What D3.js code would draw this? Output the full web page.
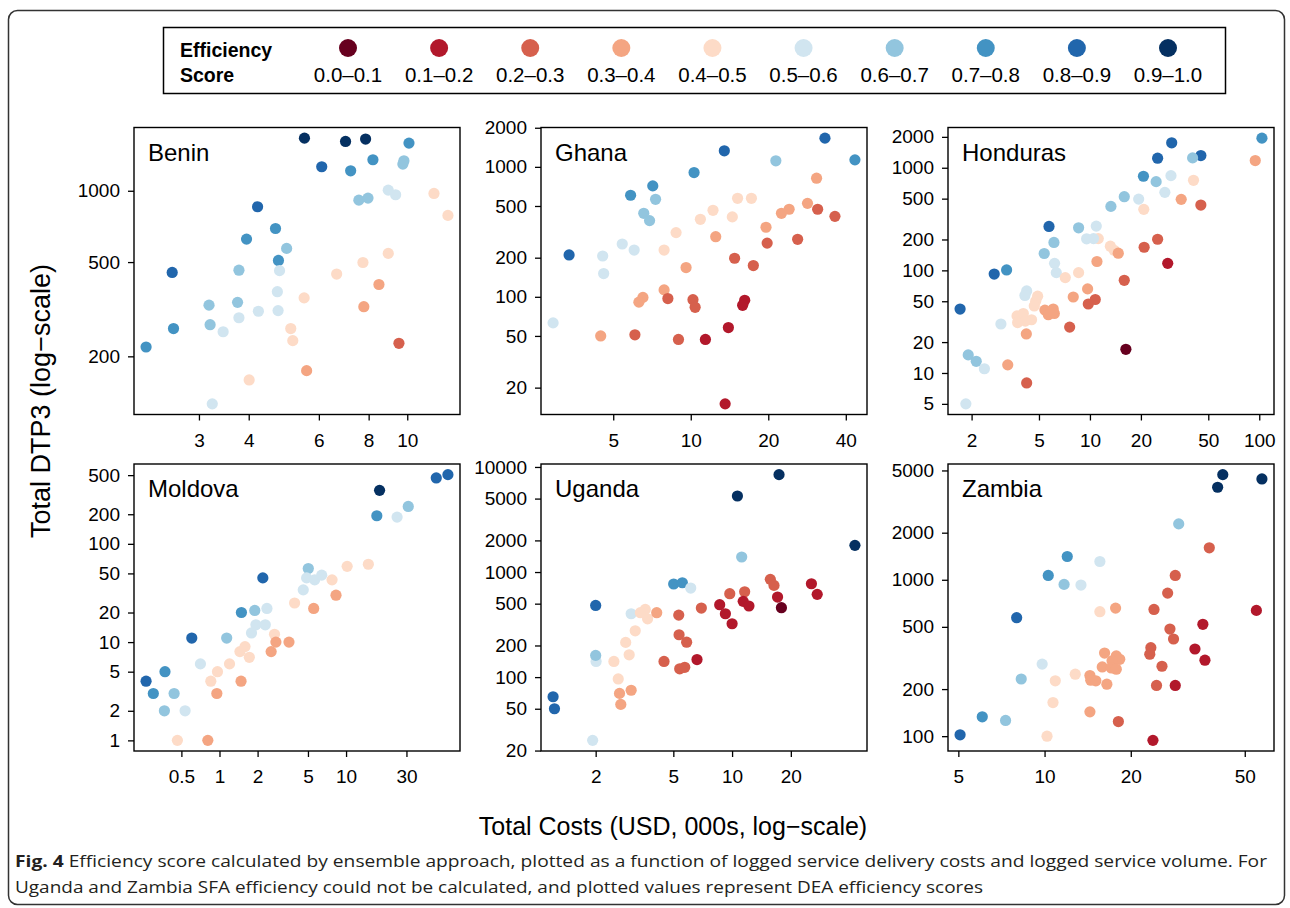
<!DOCTYPE html>
<html>
<head>
<meta charset="utf-8">
<script src="https://cdn.jsdelivr.net/npm/d3@7"></script>
<style>
  body { margin: 0; background: #fff; }
  svg text { font-family: "Liberation Sans", Arial, Helvetica, sans-serif; fill: #000; }
  .caption { font-family: "Open Sans", sans-serif; fill: #231f20; }
</style>
</head>
<body>
<svg id="fig" width="1290" height="908"></svg>
<script>
// efficiency score classes (RdBu, 10 classes)
const binLabels = ["0.0\u20130.1", "0.1\u20130.2", "0.2\u20130.3", "0.3\u20130.4", "0.4\u20130.5",
                   "0.5\u20130.6", "0.6\u20130.7", "0.7\u20130.8", "0.8\u20130.9", "0.9\u20131.0"];
const binColors = ["#67001f", "#b2182b", "#d6604d", "#f4a582", "#fddbc7",
                   "#d1e5f0", "#92c5de", "#4393c3", "#2166ac", "#053061"];

// Benin
const beninCost = [5.52, 7.00, 7.86, 10.1, 6.10, 8.20, 7.21, 9.81, 9.75, 8.96, 9.35, 7.56, 7.97, 11.67, 12.65,
  4.21, 4.67, 3.95, 4.98, 4.75, 4.78, 2.57, 3.78, 4.72, 6.65, 7.74, 8.96, 8.49, 7.78, 5.51,
  3.18, 3.75, 4.23, 4.74, 3.78, 3.20, 2.59, 3.45, 5.10, 5.16, 9.53, 2.21, 5.59, 4.01, 3.24];
const beninDtp3 = [1668, 1615, 1653, 1589, 1263, 1352, 1214, 1339, 1296, 1006, 962, 913, 931, 974, 787,
  856, 693, 625, 571, 508, 460, 452, 462, 375, 445, 498, 544, 402, 324, 353,
  329, 338, 310, 312, 291, 272, 262, 254, 262, 233, 227, 219, 174, 159, 126];
const beninScore = [.95, .95, .95, .75, .85, .75, .75, .65, .65, .55, .55, .65, .65, .45, .45,
  .85, .75, .75, .65, .75, .55, .85, .65, .55, .45, .45, .45, .35, .35, .45,
  .65, .65, .55, .55, .55, .65, .75, .55, .45, .45, .25, .75, .35, .45, .55];
const beninXTicks = [3, 4, 6, 8, 10];
const beninYTicks = [200, 500, 1000];

// Ghana
const ghanaCost = [33.2, 13.5, 43.4, 21.4, 10.3, 30.8, 7.12, 5.84, 7.30, 15.2, 17.2, 28.4, 31.1, 24.1, 22.5,
  12.2, 36.3, 14.5, 10.9, 6.57, 6.92, 19.6, 8.77, 12.5, 26.0, 19.8, 5.42, 6.03, 7.88, 3.37,
  4.55, 4.59, 14.8, 17.5, 9.59, 7.88, 8.15, 6.52, 6.29, 10.2, 10.4, 16.2, 15.9, 2.92, 4.47,
  6.07, 14.0, 8.96, 11.4, 13.6];
const ghanaDtp3 = [1664, 1329, 1132, 1113, 904, 818, 714, 605, 563, 573, 573, 524, 472, 472, 439,
  463, 416, 412, 395, 439, 386, 343, 312, 290, 277, 259, 255, 229, 229, 210,
  206, 151, 198, 174, 168, 113, 97, 99, 91, 95, 83, 94, 86, 63, 50,
  51, 58, 47, 47, 15];
const ghanaScore = [.85, .85, .75, .65, .75, .35, .75, .75, .65, .45, .45, .35, .25, .35, .35,
  .45, .25, .45, .45, .65, .65, .35, .45, .35, .25, .25, .55, .55, .45, .85,
  .55, .55, .25, .25, .35, .35, .25, .35, .35, .25, .25, .15, .15, .55, .35,
  .25, .15, .25, .15, .15];
const ghanaXTicks = [5, 10, 20, 40];
const ghanaYTicks = [20, 50, 100, 200, 500, 1000, 2000];

// Honduras
const hondurasCost = [103.7, 30.4, 25.1, 45.2, 40.4, 94.7, 20.7, 30.1, 24.6, 40.9, 27.7, 15.95, 19.4, 34.6, 13.3,
  45.2, 20.8, 5.73, 8.57, 11.2, 10.9, 9.56, 10.5, 25.1, 6.13, 13.2, 13.9, 14.7, 20.9, 5.37,
  11.0, 28.8, 6.18, 6.33, 2.72, 3.22, 7.15, 8.57, 15.95, 9.69, 4.23, 4.13, 4.91, 4.78, 4.69,
  7.97, 10.75, 9.78, 5.42, 6.07, 5.68, 6.16, 1.71, 3.71, 4.04, 3.74, 4.52, 4.15, 2.98, 7.59,
  4.21, 16.3, 1.91, 2.13, 2.38, 3.27, 4.23, 1.85];
const hondurasDtp3 = [1944, 1751, 1239, 1315, 1248, 1175, 826, 838, 732, 755, 576, 522, 495, 492, 420,
  433, 393, 268, 260, 204, 270, 203, 204, 201, 187, 172, 157, 147, 168, 146,
  122, 117, 117, 95, 92, 101, 85, 95, 80, 66, 63, 57, 56, 50, 45,
  55, 52, 47, 41, 42, 37, 38, 42, 36, 38, 31, 33, 32, 30, 28,
  24, 17, 15, 13, 11, 12, 8, 5];
const hondurasScore = [.75, .85, .85, .85, .65, .35, .75, .55, .65, .45, .55, .65, .55, .35, .65,
  .25, .45, .85, .65, .45, .55, .55, .55, .25, .65, .45, .45, .35, .25, .65,
  .35, .15, .55, .55, .85, .75, .45, .45, .25, .35, .55, .55, .45, .45, .45,
  .35, .25, .25, .35, .35, .35, .35, .85, .45, .45, .45, .45, .45, .55, .25,
  .35, .05, .65, .65, .55, .35, .25, .55];
const hondurasXTicks = [2, 5, 10, 20, 50, 100];
const hondurasYTicks = [5, 10, 20, 50, 100, 200, 500, 1000, 2000];

// Moldova
const moldovaCost = [63.8, 51.6, 18.4, 31.0, 17.5, 25.3, 15.0, 10.2, 5.03, 4.88, 5.65, 6.42, 7.75, 2.20, 4.59,
  8.33, 3.92, 5.55, 1.49, 1.90, 2.37, 1.94, 2.30, 1.79, 2.72, 0.604, 1.14, 2.79, 3.54, 1.59,
  1.45, 1.72, 2.56, 0.707, 1.20, 0.964, 0.371, 0.263, 0.854, 1.48, 0.300, 0.438, 0.953, 0.367, 0.535,
  0.465, 0.809];
const moldovaDtp3 = [506, 468, 350, 240, 193, 187, 62, 59, 56, 45, 43, 48, 43, 45, 34,
  30, 25, 22, 20, 21, 22, 15, 15, 12.4, 12, 11, 11, 10, 10, 9,
  8, 7, 8, 6, 6, 5, 5, 4, 4, 4, 3, 3, 3, 2, 2,
  1, 1];
const moldovaScore = [.85, .85, .95, .65, .75, .55, .45, .45, .65, .55, .55, .55, .45, .85, .55,
  .35, .45, .35, .75, .65, .55, .55, .55, .55, .45, .85, .65, .35, .35, .45,
  .45, .45, .35, .55, .45, .45, .75, .85, .45, .35, .75, .65, .35, .65, .55,
  .45, .35];
const moldovaXTicks = [0.5, 1, 2, 5, 10, 30];
const moldovaYTicks = [1, 2, 5, 10, 20, 50, 100, 200, 500];

// Uganda
const ugandaCost = [17.4, 10.65, 42.6, 11.2, 15.7, 16.4, 25.5, 27.3, 5.02, 5.56, 6.14, 9.73, 11.6, 17.1, 11.4,
  12.2, 8.64, 9.24, 10.0, 17.9, 6.96, 2.00, 3.04, 3.59, 3.39, 3.69, 4.11, 5.33, 3.19, 5.35,
  5.85, 2.85, 2.97, 2.48, 2.01, 2.00, 4.48, 5.39, 5.72, 6.61, 2.61, 2.65, 3.04, 2.69, 1.21,
  1.23, 1.93];
const ugandaDtp3 = [8453, 5294, 1795, 1390, 852, 746, 774, 613, 769, 791, 704, 622, 649, 578, 526,
  475, 489, 401, 322, 458, 454, 481, 401, 441, 410, 359, 410, 389, 276, 253,
  215, 214, 163, 141, 141, 161, 141, 120, 124, 147, 96, 70, 75, 55, 65,
  50, 25];
const ugandaScore = [.95, .95, .95, .65, .25, .25, .15, .15, .75, .75, .55, .25, .25, .15, .15,
  .15, .15, .15, .15, .05, .25, .85, .55, .45, .45, .45, .35, .25, .45, .25,
  .25, .45, .45, .45, .55, .65, .25, .25, .25, .15, .45, .35, .35, .35, .85,
  .85, .55];
const ugandaXTicks = [2, 5, 10, 20];
const ugandaYTicks = [20, 50, 100, 200, 500, 1000, 2000, 5000, 10000];

// Zambia
const zambiaCost = [41.9, 40.2, 57.4, 29.4, 37.6, 12.0, 15.6, 10.3, 28.6, 11.7, 13.4, 26.9, 17.7, 15.6, 24.1,
  54.9, 7.99, 35.7, 27.4, 28.2, 33.5, 23.5, 23.3, 36.3, 16.2, 17.8, 18.3, 17.2, 15.9, 17.1,
  17.8, 25.7, 9.81, 12.8, 14.4, 14.5, 15.1, 16.5, 8.29, 10.9, 24.6, 28.6, 10.7, 14.4, 18.1,
  6.06, 7.31, 5.07, 10.2, 23.9];
const zambiaDtp3 = [4702, 3904, 4413, 2277, 1601, 1409, 1309, 1066, 1066, 934, 925, 822, 659, 625, 646,
  637, 572, 519, 484, 418, 361, 368, 334, 306, 340, 326, 310, 303, 277, 273,
  268, 280, 289, 249, 244, 228, 226, 215, 232, 226, 211, 211, 164, 143, 124,
  133, 126, 102, 100, 94];
const zambiaScore = [.95, .95, .95, .65, .25, .75, .55, .75, .25, .65, .55, .25, .35, .45, .25,
  .15, .85, .15, .25, .25, .15, .25, .25, .15, .35, .35, .35, .35, .35, .35,
  .35, .25, .55, .45, .35, .35, .35, .35, .65, .45, .25, .15, .45, .35, .25,
  .75, .65, .85, .45, .15];
const zambiaXTicks = [5, 10, 20, 50];
const zambiaYTicks = [100, 200, 500, 1000, 2000, 5000];

const panels = [
  { name: "Benin",    cost: beninCost,    dtp3: beninDtp3,    score: beninScore,    xt: beninXTicks,    yt: beninYTicks },
  { name: "Ghana",    cost: ghanaCost,    dtp3: ghanaDtp3,    score: ghanaScore,    xt: ghanaXTicks,    yt: ghanaYTicks },
  { name: "Honduras", cost: hondurasCost, dtp3: hondurasDtp3, score: hondurasScore, xt: hondurasXTicks, yt: hondurasYTicks },
  { name: "Moldova",  cost: moldovaCost,  dtp3: moldovaDtp3,  score: moldovaScore,  xt: moldovaXTicks,  yt: moldovaYTicks },
  { name: "Uganda",   cost: ugandaCost,   dtp3: ugandaDtp3,   score: ugandaScore,   xt: ugandaXTicks,   yt: ugandaYTicks },
  { name: "Zambia",   cost: zambiaCost,   dtp3: zambiaDtp3,   score: zambiaScore,   xt: zambiaXTicks,   yt: zambiaYTicks }
];

const svg = d3.select("#fig");

// panel layout
const colLeft = [134, 541, 948];
const rowTop = [127.5, 464];
const pw = 326, ph = 287;

const color = d3.scaleThreshold()
  .domain(d3.range(1, 10).map(i => i / 10))
  .range(binColors);

// like R: data range in log space, padded 4% each side
function logDomain(vals) {
  const ext = d3.extent(vals, v => Math.log10(v));
  const pad = (ext[1] - ext[0]) * 0.04;
  return [Math.pow(10, ext[0] - pad), Math.pow(10, ext[1] + pad)];
}

// outer figure border
svg.append("rect")
  .attr("x", 8.5).attr("y", 10.5)
  .attr("width", 1276).attr("height", 894)
  .attr("rx", 9)
  .attr("fill", "none")
  .attr("stroke", "#333")
  .attr("stroke-width", 1.5);

panels.forEach((p, i) => {
  const left = colLeft[i % 3], top = rowTop[Math.floor(i / 3)];
  const g = svg.append("g").attr("transform", `translate(${left},${top})`);

  const x = d3.scaleLog().domain(logDomain(p.cost)).range([0, pw]);
  const y = d3.scaleLog().domain(logDomain(p.dtp3)).range([ph, 0]);

  const pts = p.cost.map((c, k) => ({ c: c, d: p.dtp3[k], s: p.score[k] }));

  g.selectAll("circle.pt")
    .data(pts)
    .enter().append("circle")
    .attr("class", "pt")
    .attr("cx", d => x(d.c))
    .attr("cy", d => y(d.d))
    .attr("r", 5.6)
    .attr("fill", d => color(d.s));

  const xAxis = d3.axisBottom(x)
    .tickValues(p.xt)
    .tickFormat(d => d)
    .tickSizeOuter(0)
    .tickSize(6)
    .tickPadding(13);
  const yAxis = d3.axisLeft(y)
    .tickValues(p.yt)
    .tickFormat(d => d)
    .tickSizeOuter(0)
    .tickSize(6)
    .tickPadding(8);

  const gx = g.append("g").attr("transform", `translate(0,${ph})`).call(xAxis);
  const gy = g.append("g").call(yAxis);
  [gx, gy].forEach(a => {
    a.select(".domain").remove();
    a.attr("font-size", 19).attr("font-family", null);
    a.selectAll(".tick line").attr("stroke", "#000").attr("stroke-width", 1.3);
    a.selectAll(".tick text").attr("fill", "#000");
  });

  // box
  g.append("rect")
    .attr("width", pw).attr("height", ph)
    .attr("fill", "none")
    .attr("stroke", "#000")
    .attr("stroke-width", 1.4);

  g.append("text")
    .attr("x", 14).attr("y", 33)
    .attr("font-size", 24)
    .text(p.name);
});

// legend
const leg = svg.append("g");
leg.append("rect")
  .attr("x", 163.5).attr("y", 27.5)
  .attr("width", 1062).attr("height", 66)
  .attr("fill", "#fff")
  .attr("stroke", "#000")
  .attr("stroke-width", 1.5);
leg.append("text").attr("x", 180).attr("y", 57)
  .attr("font-size", 19.5).attr("font-weight", "bold").text("Efficiency");
leg.append("text").attr("x", 180).attr("y", 82)
  .attr("font-size", 19.5).attr("font-weight", "bold").text("Score");

const legX = d3.scalePoint().domain(binLabels).range([348, 1168]);
leg.selectAll("circle")
  .data(binLabels)
  .enter().append("circle")
  .attr("cx", d => legX(d))
  .attr("cy", 48)
  .attr("r", 9)
  .attr("fill", (d, i) => binColors[i]);
leg.selectAll("text.lab")
  .data(binLabels)
  .enter().append("text")
  .attr("class", "lab")
  .attr("x", d => legX(d))
  .attr("y", 82)
  .attr("text-anchor", "middle")
  .attr("font-size", 20.5)
  .text(d => d);

// axis titles
svg.append("text")
  .attr("transform", "translate(50,401) rotate(-90)")
  .attr("text-anchor", "middle")
  .attr("font-size", 27)
  .text("Total DTP3 (log\u2212scale)");
svg.append("text")
  .attr("x", 673).attr("y", 835)
  .attr("text-anchor", "middle")
  .attr("font-size", 25)
  .text("Total Costs (USD, 000s, log\u2212scale)");

// caption
const cap1 = svg.append("text").attr("class", "caption")
  .attr("x", 15).attr("y", 867).attr("font-size", 16.5)
  .attr("textLength", 1252).attr("lengthAdjust", "spacingAndGlyphs");
cap1.append("tspan").attr("font-weight", "bold").text("Fig. 4");
cap1.append("tspan").text(" Efficiency score calculated by ensemble approach, plotted as a function of logged service delivery costs and logged service volume. For");
svg.append("text").attr("class", "caption")
  .attr("x", 15).attr("y", 893).attr("font-size", 16.5)
  .attr("textLength", 968).attr("lengthAdjust", "spacingAndGlyphs")
  .text("Uganda and Zambia SFA efficiency could not be calculated, and plotted values represent DEA efficiency scores");
</script>
</body>
</html>
